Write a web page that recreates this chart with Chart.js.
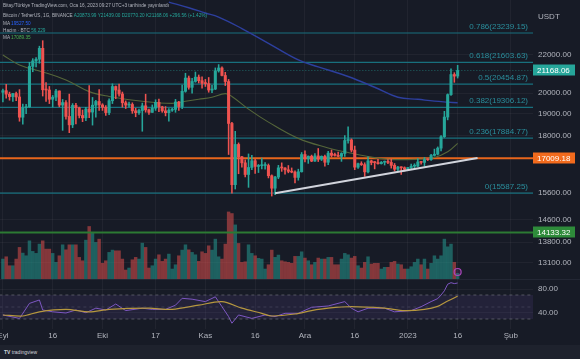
<!DOCTYPE html>
<html lang="tr">
<head>
<meta charset="utf-8">
<title>Bitcoin / TetherUS</title>
<script src="https://cdn.jsdelivr.net/npm/chart.js@4.4.1/dist/chart.umd.min.js"></script>
<style>
  html, body { margin:0; padding:0; width:580px; height:359px; overflow:hidden; background:#171b26; font-family:"Liberation Sans", Arial, sans-serif; }
  #wrap { position:relative; width:580px; height:359px; }
  canvas { position:absolute; left:0; }
  #main { top:0; }
  #rsi { top:279px; }
  .hdr { position:absolute; left:3px; font-size:4.7px; line-height:6px; color:#b2b5be; white-space:nowrap; }
  .up { color:#26a69a; }
  #sep { position:absolute; left:0; top:279px; width:580px; height:1px; background:#232734; }
  #strip { position:absolute; left:0; top:345px; width:580px; height:14px; background:#1e222d; }
  #logo { position:absolute; left:4px; top:4px; font-size:5px; color:#d1d4dc; }
</style>
</head>
<body>
<div id="wrap">
  <canvas id="main" width="580" height="279"></canvas>
  <div id="sep"></div>
  <canvas id="rsi" width="580" height="66"></canvas>
  <div class="hdr" style="top:3px">Bitay/Türkiye TradingView.com, Oca 16, 2023 09:27 UTC+3 tarihinde yayınlandı</div>
  <div class="hdr" style="top:13px">Bitcoin / TetherUS, 1G, BINANCE <span class="up">A20873.99 Y21439.00 D20770.20 K21168.06 +296.56 (+1.42%)</span></div>
  <div class="hdr" style="top:20.5px">MA <span style="color:#2962ff">19527.50</span></div>
  <div class="hdr" style="top:27.5px">Hacim · BTC <span class="up">56.229</span></div>
  <div class="hdr" style="top:34.5px">MA <span style="color:#4caf50">17089.35</span></div>
  <div id="strip"><div id="logo"><b>TV</b> tradingview</div></div>
</div>
<script>
// ---------- data (day index 0 = 1 Eylül 2022) ----------
const opens = [20048,20127,19953,19832,19986,19812,18838,19290,19330,21381,21680,21769,22370,20173,20160,19701,19803,20113,19417,19538,18875,18483,19401,19289,18920,18807,19227,19080,19412,19591,
19423,19312,19056,19629,20337,20158,19960,19530,19417,19446,19141,19051,19157,19382,19185,19067,19268,19550,19334,19139,19053,19172,19208,19567,19345,20095,20771,20295,20595,20818,20635,
20495,20485,20159,20209,21148,21299,20905,20591,18547,15922,17601,17070,16812,16330,16619,16900,16662,16692,16700,16700,16281,15782,16226,16603,16598,16522,16458,16428,16212,16442,
17163,16978,17092,16885,17105,16966,17089,16836,17224,17128,17127,17085,17209,17774,17803,17356,16632,16777,16738,16438,16895,16824,16821,16778,16837,16850,16830,16706,16547,16633,16607,
16542,16616,16673,16674,16850,16831,16950,16943,17127,17178,17440,17943,18846,19930,20954,20873.99];
const highs = [20208,20450,20055,20000,20057,20180,19464,19454,21600,21800,21860,22488,22799,20540,20340,19890,20190,20117,19690,19640,19956,19490,19500,19316,19180,19310,20385,19790,19645,20185,
19485,19395,19719,20475,20365,20456,20060,19620,19559,19527,19264,19220,19513,19951,19226,19425,19676,19706,19360,19345,19250,19257,19695,19601,20415,21020,20877,20750,21085,20931,20840,
20700,20800,20393,21302,21480,21365,21070,20700,18600,18186,17670,17084,16939,17190,17134,16960,16745,17012,16820,16765,16315,16253,16708,16812,16613,16700,16600,16480,16548,17250,
17320,17105,17140,17200,17424,17107,17142,17299,17360,17227,17270,17241,18000,18387,17850,17530,16800,16859,16815,17061,16925,16868,16955,16869,16890,16950,16970,16785,16664,16650,16644,
16630,16760,16774,16990,16879,17041,16981,17176,17398,17493,17990,19117,19966,21258,21050,21439];
const lows = [19565,19754,19655,19600,19635,18650,18510,19000,19300,21100,21350,21550,19860,19600,19490,19320,19630,19335,18232,18750,18125,18355,18531,18805,18630,18680,18816,18471,18843,19155,
19160,18920,18959,19490,19730,19853,19320,19250,19316,19020,18860,18965,18190,19075,18975,19065,19160,19096,19070,18900,18650,19115,19070,19157,19240,20050,20200,20000,20555,20515,20249,
20340,20049,20033,20180,21080,20880,20385,17166,15588,15750,16361,16631,16229,15815,16527,16377,16410,16560,16547,16191,15476,15530,16160,16458,16345,16400,16400,15996,16100,16428,
16855,16790,16860,16875,16867,16906,16678,16733,17060,17092,17071,16874,17080,17660,17275,16527,16585,16700,16256,16398,16729,16560,16755,16760,16720,16780,16592,16470,16488,16333,16470,
16499,16548,16606,16656,16753,16679,16908,16911,17095,17146,17315,17910,18714,19887,20551,20770.2];
const closes = [20127,19953,19832,19986,19812,18838,19290,19330,21381,21680,21769,22370,20173,20160,19701,19803,20113,19417,19538,18875,18483,19401,19289,18920,18807,19227,19080,19412,19591,19423,
19312,19056,19629,20337,20158,19960,19530,19417,19446,19141,19051,19157,19382,19185,19067,19268,19550,19334,19139,19053,19172,19208,19567,19345,20095,20771,20295,20595,20818,20635,20495,
20485,20159,20209,21148,21299,20905,20591,18547,15922,17601,17070,16812,16330,16619,16900,16662,16692,16700,16700,16281,15782,16226,16603,16598,16522,16458,16428,16212,16442,17163,
16978,17092,16885,17105,16966,17089,16836,17224,17128,17127,17085,17209,17774,17803,17356,16632,16777,16738,16438,16895,16824,16821,16778,16837,16850,16830,16706,16547,16633,16607,16542,
16616,16673,16674,16850,16831,16950,16943,17127,17178,17440,17943,18846,19930,20954,20871,21168.06];
// volume, thousand BTC
const volumes = [200,223,133,133,200,317,260,233,383,277,257,350,383,300,300,257,167,233,343,293,343,343,343,217,183,390,527,460,367,400,
157,183,267,290,283,283,200,90,110,193,217,200,360,317,110,133,200,243,177,200,250,100,143,233,290,343,293,267,243,177,273,
257,333,290,400,223,200,350,673,657,543,357,
167,173,343,257,233,207,200,100,143,290,217,240,183,173,167,157,227,227,273,
210,183,143,167,210,200,200,217,217,143,143,200,257,243,210,227,133,110,167,223,150,157,157,100,117,117,167,177,150,143,100,
100,123,167,200,143,200,100,157,233,200,233,400,323,350,167,56];

const ma20Days = [0,5,12,19,26,32,42,51,55,59,63,67,69,74,80,89,98,104,110,116,124,130,134,137];
const ma20Vals = [22000,21460,21090,20670,20080,19840,19600,19500,19600,19700,19800,19980,19840,19220,18610,17870,17450,17250,17080,16960,16960,17040,17280,17650];
const ma200Days = [50,56,61,65,72,80,89,95,104,112,119,125,130,134,137];
const ma200Vals = [25100,24750,24430,24180,23500,22650,21730,21360,20850,20300,19800,19700,19610,19560,19527.5];

const rsiDays = [0,5,8,11,12,15,19,22,25,28,31,34,37,42,45,49,52,54,57,61,64,66,68,69,71,75,79,82,85,89,93,98,103,105,107,110,115,118,123,126,129,131,132,133,134,135,136,137];
const rsiVals = [36.7,31,56,61.7,45,42,40,45,40.5,48,45,55,44,48,46,46,53,64.5,63,59,67,50.5,34,23,36.7,31,36.7,34,39.5,39.5,49.5,51.7,59,48,42,48,48,42,44,50.5,59,64,70,77,88,90.5,89,90];
const rsiMaDays = [0,6,11,19,26,32,44,51,59,66,72,78,81,88,93,98,105,115,121,127,131,134,137];
const rsiMaVals = [36.7,35,42,46,42,46,48,46,53,59,48,39.5,35,38.3,44,48,50.5,48,44,46,51,60,68];

const trendDays = [82,143];
const trendPrices = [15583,17017];
const eventDays = [137];
const eventPrices = [12806];

const fibRatios = [0.786,0.618,0.5,0.382,0.236,0];
const fibPrices = [23239.15,21603.63,20454.87,19306.12,17884.77,15587.25];
const lastPrice = 21168.06;
const supportPrice = 17009.18;
const alertPrice = 14133.32;

const timeTickDays = [0,15,30,46,61,76,91,106,122,137,153];
const timeTickLabels = ['Eyl','16','Eki','17','Kas','16','Ara','16','2023','16','Şub'];
const priceTicks = [22000,20000,19000,18000,15600,14600,13800,13100];
const rsiTicks = [80,40];
const rsiBand = [70,50,30];

// ---------- view settings ----------
const X_MIN = -0.87, X_MAX = 159.7;
const Y_MIN = 12584, Y_MAX = 25234;
const VOL_MAX = 2800;
const RSI_MIN = 13.33, RSI_MAX = 96.67;
const GRID = 'rgba(255,255,255,0.045)';
const UP = '#26a69a', DOWN = '#ef5350';

Chart.defaults.font.family = "'Liberation Sans', Arial, sans-serif";
Chart.defaults.font.size = 8;
Chart.defaults.color = '#b2b5be';

const isUp = closes.map((c, i) => c >= opens[i]);
const candleColors = isUp.map(u => u ? UP : DOWN);
const volColors = isUp.map(u => u ? 'rgba(38,166,154,0.5)' : 'rgba(239,83,80,0.5)');
const pts = (xs, ys) => xs.map((x, i) => ({x, y: ys[i]}));
const hline = p => [{x: X_MIN - 2, y: p}, {x: X_MAX + 2, y: p}];
const lineDs = (data, color, width, extra) => Object.assign({type:'line', data, borderColor: color, borderWidth: width, pointRadius: 0, fill: false, tension: 0}, extra || {});

const xScale = (showLabels) => ({
  type: 'linear', min: X_MIN, max: X_MAX, offset: false,
  grid: {color: GRID, drawTicks: false, offset: false},
  border: {display: false},
  ticks: {display: showLabels, color: '#b2b5be', padding: 2, autoSkip: false, maxRotation: 0, minRotation: 0,
          font: {size: 8}, callback: (v, i) => timeTickLabels[i] ?? ''},
  afterBuildTicks: a => { a.ticks = timeTickDays.map(v => ({value: v})); },
  afterFit: s => { s.height = showLabels ? 16 : 0; s.paddingLeft = 0; s.paddingRight = 0; }
});

const overlay = {
  id: 'overlay',
  afterDatasetsDraw(chart) {
    const {ctx, chartArea, scales: {y}} = chart;
    ctx.save();
    ctx.font = "8px 'Liberation Sans', Arial, sans-serif";
    ctx.fillStyle = '#2a8e9c';
    ctx.textAlign = 'right';
    ctx.textBaseline = 'alphabetic';
    fibRatios.forEach((r, k) => {
      const py = y.getPixelForValue(fibPrices[k]);
      ctx.fillText(String(r) + '(' + fibPrices[k].toFixed(2) + ')', chartArea.right - 5, py - 4);
    });
    ctx.restore();
  },
  afterDraw(chart) {
    const {ctx, chartArea, scales: {y}} = chart;
    ctx.save();
    ctx.font = "8px 'Liberation Sans', Arial, sans-serif";
    ctx.textBaseline = 'middle';
    ctx.textAlign = 'left';
    ctx.fillStyle = '#b2b5be';
    ctx.fillText('USDT', chartArea.right + 5, 17);
    [[lastPrice, '#26a69a'], [supportPrice, '#f26b1d'], [alertPrice, '#2e8b3a']].forEach(([p, c]) => {
      const py = y.getPixelForValue(p);
      ctx.fillStyle = c;
      ctx.fillRect(chartArea.right, Math.round(py) - 5.5, 42, 11);
      ctx.fillStyle = '#ffffff';
      ctx.fillText(p.toFixed(2), chartArea.right + 4, Math.round(py) + 0.5);
    });
    ctx.restore();
  }
};

new Chart(document.getElementById('main'), {
  type: 'bar',
  data: {
    datasets: [
      {type: 'bar', data: pts(volumes.map((_, i) => i), volumes), yAxisID: 'yv', backgroundColor: volColors, barThickness: 2.8, grouped: false, order: 20},
      ...fibPrices.map(p => lineDs(hline(p), '#18707e', 1.2, {order: 15})),
      lineDs(hline(lastPrice), 'rgba(38,166,154,0.55)', 1, {borderDash: [1, 2], order: 14}),
      lineDs(hline(supportPrice), '#e8661c', 2, {order: 13}),
      lineDs(hline(alertPrice), '#2c7a33', 2, {order: 13}),
      lineDs(pts(ma200Days, ma200Vals), '#2d3f9e', 1.4, {tension: 0.4, order: 8}),
      lineDs(pts(ma20Days, ma20Vals), '#55663a', 1.1, {tension: 0.4, order: 8}),
      {type: 'bar', data: highs.map((h, i) => ({x: i, y: [lows[i], h]})), backgroundColor: candleColors, barThickness: 0.9, grouped: false, order: 5},
      {type: 'bar', data: opens.map((o, i) => ({x: i, y: [o, closes[i]]})), backgroundColor: candleColors, barThickness: 2.4, minBarLength: 1, grouped: false, order: 4},
      lineDs(pts(trendDays, trendPrices), '#d1d4dc', 2, {order: 1}),
      {type: 'scatter', data: pts(eventDays, eventPrices), pointRadius: 3.5, pointStyle: 'circle', borderColor: '#ab47bc', backgroundColor: 'rgba(171,71,188,0.15)', borderWidth: 1.2, order: 0}
    ]
  },
  options: {
    responsive: false, animation: false, events: [],
    layout: {padding: 0, autoPadding: false},
    plugins: {legend: {display: false}, tooltip: {enabled: false}},
    scales: {
      x: xScale(false),
      y: {
        type: 'logarithmic', position: 'right', min: Y_MIN, max: Y_MAX,
        grid: {color: GRID, drawTicks: false}, border: {display: false},
        ticks: {color: '#b2b5be', padding: 5, autoSkip: false, font: {size: 8}, callback: v => Number(v).toFixed(2)},
        afterBuildTicks: a => { a.ticks = priceTicks.map(v => ({value: v})); },
        afterFit: s => { s.width = 47; s.paddingTop = 0; s.paddingBottom = 0; }
      },
      yv: {type: 'linear', display: false, min: 0, max: VOL_MAX}
    }
  },
  plugins: [overlay]
});

new Chart(document.getElementById('rsi'), {
  type: 'line',
  data: {
    datasets: [
      lineDs(hline(rsiBand[0]), 'rgba(120,123,134,0.6)', 1, {borderDash: [3, 3]}),
      lineDs(hline(rsiBand[2]), 'rgba(120,123,134,0.6)', 1, {borderDash: [3, 3], fill: '-1', backgroundColor: 'rgba(126,87,194,0.12)'}),
      lineDs(hline(rsiBand[1]), 'rgba(120,123,134,0.3)', 1, {borderDash: [3, 3]}),
      lineDs(pts(rsiMaDays, rsiMaVals), '#bfa02c', 1.2, {tension: 0.3}),
      lineDs(pts(rsiDays, rsiVals), '#7e57c2', 1, {tension: 0})
    ]
  },
  options: {
    responsive: false, animation: false, events: [],
    layout: {padding: 0, autoPadding: false},
    plugins: {legend: {display: false}, tooltip: {enabled: false}},
    scales: {
      x: xScale(true),
      y: {
        type: 'linear', position: 'right', min: RSI_MIN, max: RSI_MAX,
        grid: {color: GRID, drawTicks: false}, border: {display: false},
        ticks: {color: '#b2b5be', padding: 5, autoSkip: false, font: {size: 8}, callback: v => Number(v).toFixed(2)},
        afterBuildTicks: a => { a.ticks = rsiTicks.map(v => ({value: v})); },
        afterFit: s => { s.width = 47; s.paddingTop = 0; s.paddingBottom = 0; }
      }
    }
  }
});
</script>
</body>
</html>
